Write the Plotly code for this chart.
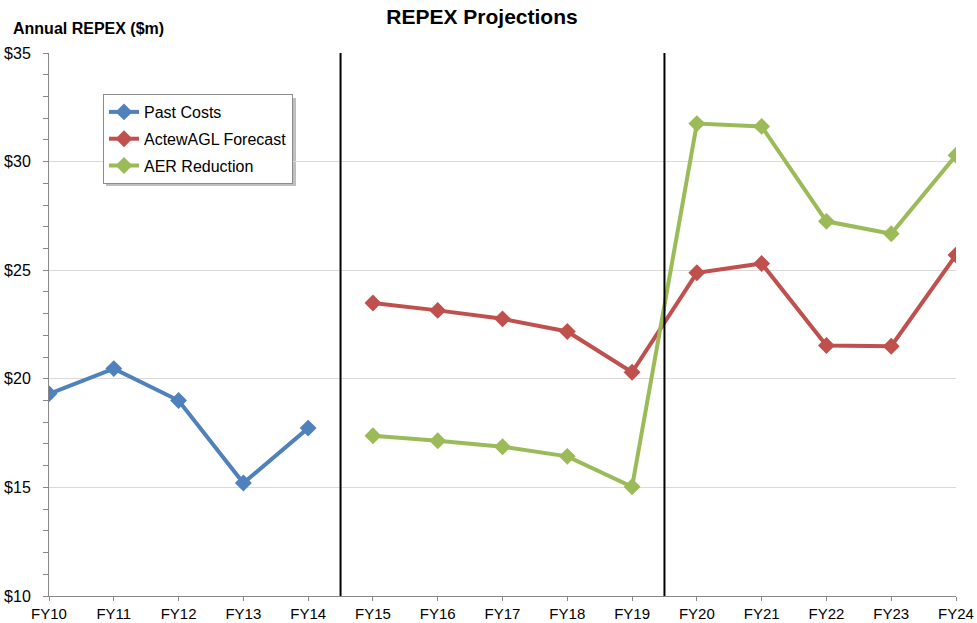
import plotly.graph_objects as go

# Financial years on the category axis
years = ["FY10", "FY11", "FY12", "FY13", "FY14", "FY15", "FY16", "FY17",
         "FY18", "FY19", "FY20", "FY21", "FY22", "FY23", "FY24"]

# Annual REPEX, $m
past_years = years[:5]
past_costs = [19.31, 20.47, 19.00, 15.20, 17.73]

proj_years = years[5:]
actewagl_forecast = [23.49, 23.15, 22.76, 22.18, 20.30, 24.88, 25.31, 21.53, 21.50, 25.70]
aer_reduction = [17.38, 17.15, 16.87, 16.43, 15.03, 31.75, 31.62, 27.25, 26.68, 30.29]

y_ticks = [10, 15, 20, 25, 30, 35]
y_tick_text = ["$10", "$15", "$20", "$25", "$30", "$35"]

# Period boundaries sit halfway between two categories
period_breaks = [years.index("FY14") + 0.5, years.index("FY19") + 0.5]

FONT = "Liberation Sans, Arial, sans-serif"
BLUE, RED, GREEN = "#4F81BD", "#C0504D", "#9BBB59"

fig = go.Figure()

series = [
    ("Past Costs", past_years, past_costs, BLUE),
    ("ActewAGL Forecast", proj_years, actewagl_forecast, RED),
    ("AER Reduction", proj_years, aer_reduction, GREEN),
]
for name, xs, ys, color in series:
    fig.add_trace(go.Scatter(
        x=xs, y=ys, name=name, legendgroup=name,
        mode="lines+markers",
        line=dict(color=color, width=4),
        marker=dict(symbol="diamond", size=13, color=color, line=dict(width=0)),
    ))

W, H = 977, 623
ML, MR, MT, MB = 49, 21, 53, 27
pw, ph = W - ML - MR, H - MT - MB


def px_x(p):
    return (p - ML) / pw


def px_y(p):
    return (H - MB - p) / ph


shapes = []
for b in period_breaks:
    shapes.append(dict(type="line", xref="x", yref="paper", x0=b, x1=b, y0=0, y1=1,
                       line=dict(color="black", width=2), layer="above"))

# soft drop shadow behind the legend box
shapes.append(dict(type="rect", xref="paper", yref="paper",
                   x0=px_x(106), x1=px_x(296), y0=px_y(186), y1=px_y(98),
                   fillcolor="rgba(0,0,0,0.25)", line=dict(width=0), layer="below"))

fig.update_layout(
    width=W, height=H,
    margin=dict(l=ML, r=MR, t=MT, b=MB, autoexpand=False),
    paper_bgcolor="white", plot_bgcolor="white",
    font=dict(family=FONT, size=16, color="#000000"),
    title=dict(text="<b>REPEX Projections</b>", font=dict(family=FONT, size=21, color="#000"),
               x=482 / W, xanchor="center", y=1 - 17 / H, yanchor="middle",
               xref="container", yref="container"),
    showlegend=True,
    legend=dict(x=px_x(103), y=px_y(94), xanchor="left", yanchor="top",
                bgcolor="white", bordercolor="#8c8c8c", borderwidth=1,
                font=dict(family=FONT, size=16), tracegroupgap=3,
                traceorder="grouped"),
    shapes=shapes,
    annotations=[dict(text="<b>Annual REPEX ($m)</b>", xref="paper", yref="paper",
                      x=px_x(11), y=px_y(28), xanchor="left", yanchor="middle",
                      showarrow=False, font=dict(family=FONT, size=16, color="#000"))],
)

fig.update_xaxes(
    type="category", categoryorder="array", categoryarray=years,
    range=[0, len(years) - 1], automargin=False,
    showgrid=False, zeroline=False,
    showline=True, linecolor="#888888", linewidth=1,
    ticks="outside", ticklen=4, tickcolor="#888888",
    tickfont=dict(family=FONT, size=15, color="#000"),
    ticklabelstandoff=0,
)

fig.update_yaxes(
    range=[10, 35], tickmode="array", tickvals=y_ticks, ticktext=y_tick_text,
    automargin=False,
    showgrid=True, gridcolor="#d9d9d9", gridwidth=1, zeroline=False,
    showline=True, linecolor="#888888", linewidth=1,
    ticks="outside", ticklen=5, tickcolor="#888888",
    minor=dict(dtick=1, tick0=10, ticks="outside", ticklen=5, tickcolor="#888888", showgrid=False),
    tickfont=dict(family=FONT, size=16, color="#000"),
    ticklabelstandoff=9,
)

fig.write_html("out.html")
